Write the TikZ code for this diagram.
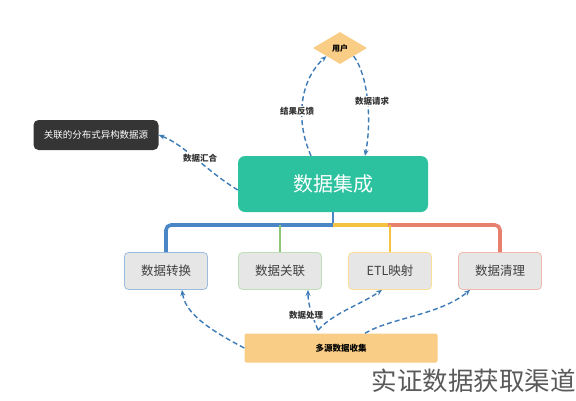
\documentclass[tikz,border=0pt]{standalone}
\usepackage{fontspec}
\setmainfont{Noto Sans CJK SC}
\usetikzlibrary{shapes.geometric,arrows.meta}
\definecolor{teal1}{HTML}{2DC29F}
\definecolor{dark1}{HTML}{353535}
\definecolor{orng}{HTML}{F9CD86}
\definecolor{bblue}{HTML}{4A86C5}
\definecolor{bgreen}{HTML}{8CC47A}
\definecolor{byellow}{HTML}{F5C242}
\definecolor{bred}{HTML}{E8806E}
\definecolor{gfill}{HTML}{E6E6E6}
\definecolor{arr}{HTML}{3C7AB5}
\tikzset{
  subbox/.style={draw=#1!55, line width=0.8pt, fill=gfill, rounded corners=4pt, minimum width=83pt, minimum height=37pt, font=\fontsize{12.5}{14}\selectfont, text=black!75},
  branch/.style={line width=3.6pt, rounded corners=5pt},
  vline/.style={line width=1.6pt},
  darr/.style={draw=arr, line width=1.4pt, dash pattern=on 5pt off 3pt, -{Stealth[length=6pt,width=5pt]}},
  lbl/.style={font=\fontsize{8.5}{10}\bfseries\selectfont, text=black!80, fill=white, inner sep=1pt},
}
\begin{document}
\begin{tikzpicture}[x=1pt,y=-1pt]
\useasboundingbox (0,0) rectangle (576,400);
% nodes
\node[diamond, fill=orng, minimum width=54pt, minimum height=32pt, inner sep=0pt, font=\fontsize{8}{9}\bfseries\selectfont] (user) at (340,48) {用户};
\node[fill=dark1, rounded corners=5pt, minimum width=125pt, minimum height=30pt, text=white, font=\fontsize{9.5}{11}\selectfont] (src) at (96,135) {关联的分布式异构数据源};
\node[fill=teal1, rounded corners=7pt, minimum width=190pt, minimum height=56pt, text=white, font=\fontsize{20}{24}\selectfont] (core) at (333,184) {数据集成};
\node[subbox=bblue] (b1) at (166,271) {数据转换};
\node[subbox=bgreen] (b2) at (280,271) {数据关联};
\node[subbox=byellow] (b3) at (390,271) {ETL映射};
\node[subbox=bred] (b4) at (500,271) {数据清理};
\node[fill=orng, rounded corners=2pt, minimum width=193pt, minimum height=29pt, font=\fontsize{8.5}{10}\bfseries\selectfont] (col) at (341,348) {多源数据收集};
\node[text=black!65, font=\fontsize{25.5}{28}\selectfont, anchor=east, inner sep=0pt] (wm) at (576,381) {实证数据获取渠道};
% branches
\coordinate (j) at (333,225);
\draw[bblue, vline] (core.south -| j) -- (j);
\draw[bblue, branch] (j) -- (b1.north |- j) -- (b1.north);
\draw[bred, branch] (j -| 385,0) -- (b4.north |- j) -- (b4.north);
\draw[byellow, line width=3.6pt] (j) -- (j -| 388,0);
\draw[bgreen, vline] (b2.north |- j) -- (b2.north);
\draw[byellow, vline] (b3.north |- j) -- (b3.north);
% upper arrows
\draw[darr] ([xshift=-22pt]core.north) .. controls (295,120) and (300,80) .. (user.south west);
\node[lbl] at (297,111) {结果反馈};
\draw[darr] (user.south east) .. controls (368,75) and (372,120) .. ([xshift=32pt]core.north);
\node[lbl] at (372,101) {数据请求};
\draw[darr] ([yshift=-6pt]core.west) .. controls (205,170) and (185,145) .. (src.east);
\node[lbl] at (200,158) {数据汇合};
% lower arrows
\coordinate (v) at (318,330);
\draw[darr] (col.west) .. controls (200,325) and (185,310) .. ([xshift=16pt]b1.south);
\draw[darr] (v) .. controls (312,315) and (308,305) .. ([xshift=28pt]b2.south);
\draw[darr] (v) .. controls (335,312) and (360,305) .. ([xshift=-8pt]b3.south);
\draw[darr] ([xshift=24pt]col.north) .. controls (390,318) and (440,315) .. ([xshift=-30pt]b4.south);
\node[lbl] at (306,315) {数据处理};
\end{tikzpicture}
\end{document}
